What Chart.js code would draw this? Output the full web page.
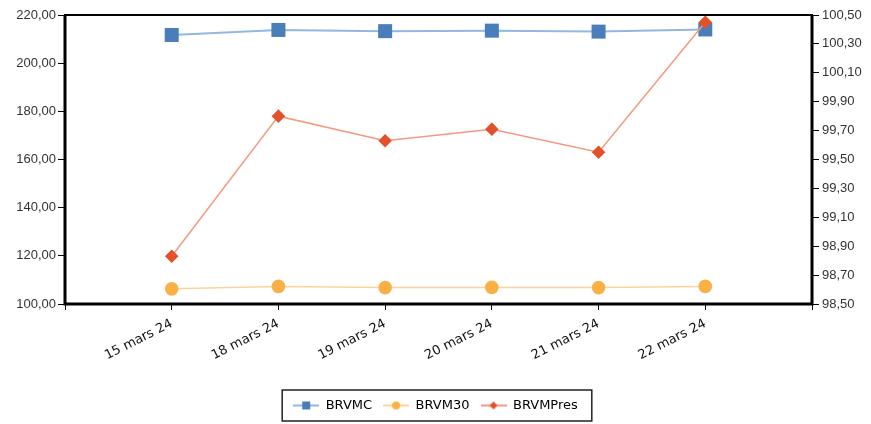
<!DOCTYPE html>
<html>
<head>
<meta charset="utf-8">
<script src="https://cdn.jsdelivr.net/npm/chart.js@4.4.1/dist/chart.umd.min.js"></script>
<style>
    html, body {
        margin: 0;
        padding: 0;
        background: #ffffff;
    }
    #wrap {
        width: 871px;
        height: 424px;
    }
</style>
</head>
<body>
<div id="wrap"><canvas id="chart" width="871" height="424"></canvas></div>
<script>
// values
const dates = ["15 mars 24", "18 mars 24", "19 mars 24", "20 mars 24", "21 mars 24", "22 mars 24"];
const brvmc = [211.7, 213.8, 213.3, 213.5, 213.1, 214.0];
const brvm30 = [106.3, 107.3, 106.8, 106.9, 106.8, 107.3];
const brvmPres = [98.83, 99.80, 99.63, 99.71, 99.55, 100.45];

const leftTicks = { min: 100, max: 220, step: 20 };
const rightTicks = { min: 98.5, max: 100.5, step: 0.2 };

const blueMark = "#4a7ebb";
const blueLine = "#93b7e3";
const orangeMark = "#fbb046";
const orangeLine = "#fcd39b";
const redMark = "#e4502a";
const redLine = "#f29a7e";

// one empty slot on each side, like the original category axis
const axisLabels = [""].concat(dates, [""]);

function padded(values) {
    return [null].concat(values, [null]);
}

function frFormat(v) {
    return Number(v).toFixed(2).replace(".", ",");
}

function legendIcon(style, markColor, lineColor) {
    const c = document.createElement("canvas");
    c.width = 26;
    c.height = 14;
    const g = c.getContext("2d");
    g.strokeStyle = lineColor;
    g.lineWidth = 2;
    g.beginPath();
    g.moveTo(0, 7);
    g.lineTo(26, 7);
    g.stroke();
    g.fillStyle = markColor;
    if (style === "rect") {
        g.fillRect(9, 3, 8, 8);
    } else if (style === "circle") {
        g.beginPath();
        g.arc(13, 7, 4, 0, Math.PI * 2);
        g.fill();
    } else {
        g.beginPath();
        g.moveTo(13, 3);
        g.lineTo(17, 7);
        g.lineTo(13, 11);
        g.lineTo(9, 7);
        g.closePath();
        g.fill();
    }
    return c;
}

const icons = [
    legendIcon("rect", blueMark, blueLine),
    legendIcon("circle", orangeMark, orangeLine),
    legendIcon("diamond", redMark, redLine),
];

// frame round the plot and box round the legend
const framePlugin = {
    id: "framePlugin",
    afterDatasetsDraw(chart) {
        const a = chart.chartArea;
        const ctx = chart.ctx;
        ctx.save();
        ctx.strokeStyle = "#000";
        ctx.lineWidth = 2;
        ctx.strokeRect(a.left, a.top, a.right - a.left, a.bottom - a.top);
        ctx.lineWidth = 3;
        ctx.beginPath();
        ctx.moveTo(a.left, a.top);
        ctx.lineTo(a.left, a.bottom);
        ctx.lineTo(a.right, a.bottom);
        ctx.lineTo(a.right, a.top);
        ctx.stroke();
        ctx.restore();
    },
    afterDraw(chart) {
        const boxes = chart.legend && chart.legend.legendHitBoxes;
        if (!boxes || boxes.length === 0) {
            return;
        }
        let l = Infinity, r = -Infinity, t = Infinity, b = -Infinity;
        boxes.forEach((h) => {
            l = Math.min(l, h.left);
            r = Math.max(r, h.left + h.width);
            t = Math.min(t, h.top);
            b = Math.max(b, h.top + h.height);
        });
        const ctx = chart.ctx;
        ctx.save();
        ctx.strokeStyle = "#222";
        ctx.lineWidth = 1.5;
        ctx.strokeRect(l - 11, t - 9, r - l + 25, b - t + 18);
        ctx.restore();
    },
};

new Chart(document.getElementById("chart").getContext("2d"), {
    type: "line",
    data: {
        labels: axisLabels,
        datasets: [
            {
                label: "BRVMC",
                data: padded(brvmc),
                yAxisID: "y",
                borderColor: blueLine,
                borderWidth: 2,
                backgroundColor: blueMark,
                pointStyle: "rect",
                pointRadius: 9.9,
                pointBorderWidth: 0,
                pointBackgroundColor: blueMark,
                order: 2,
            },
            {
                label: "BRVM30",
                data: padded(brvm30),
                yAxisID: "y",
                borderColor: orangeLine,
                borderWidth: 1.5,
                backgroundColor: orangeMark,
                pointStyle: "circle",
                pointRadius: 6.8,
                pointBorderWidth: 0,
                pointBackgroundColor: orangeMark,
                order: 1,
            },
            {
                label: "BRVMPres",
                data: padded(brvmPres),
                yAxisID: "y1",
                borderColor: redLine,
                borderWidth: 1.5,
                backgroundColor: redMark,
                pointStyle: "rectRot",
                pointRadius: 6.8,
                pointBorderWidth: 0,
                pointBackgroundColor: redMark,
                order: 0,
            },
        ],
    },
    options: {
        responsive: false,
        animation: false,
        spanGaps: false,
        layout: {
            padding: { top: 15, left: 0, right: 0, bottom: 2 },
        },
        scales: {
            x: {
                offset: false,
                grid: {
                    display: true,
                    drawOnChartArea: false,
                    drawTicks: true,
                    tickLength: 6,
                    color: "#000",
                },
                border: { display: false },
                ticks: {
                    autoSkip: false,
                    maxRotation: 27,
                    minRotation: 27,
                    padding: 6,
                    color: "#111",
                    font: { family: "DejaVu Sans", size: 13 },
                },
                afterFit(scale) {
                    scale.height = 84;
                },
            },
            y: {
                position: "left",
                min: leftTicks.min,
                max: leftTicks.max,
                grid: {
                    display: true,
                    drawOnChartArea: false,
                    tickLength: 7,
                    color: "#000",
                },
                border: { display: false },
                ticks: {
                    stepSize: leftTicks.step,
                    padding: 2,
                    color: "#333",
                    font: { family: "Liberation Sans", size: 13 },
                    callback: (v) => frFormat(v),
                },
                afterFit(scale) {
                    scale.width = 65;
                },
            },
            y1: {
                position: "right",
                min: rightTicks.min,
                max: rightTicks.max,
                grid: {
                    display: true,
                    drawOnChartArea: false,
                    tickLength: 7,
                    color: "#000",
                },
                border: { display: false },
                ticks: {
                    stepSize: rightTicks.step,
                    padding: 3,
                    color: "#333",
                    font: { family: "Liberation Sans", size: 13 },
                    callback: (v) => frFormat(v),
                },
                afterFit(scale) {
                    scale.width = 59;
                },
            },
        },
        plugins: {
            tooltip: { enabled: false },
            legend: {
                display: true,
                position: "bottom",
                labels: {
                    usePointStyle: true,
                    pointStyleWidth: 26,
                    padding: 11,
                    color: "#111",
                    font: { family: "DejaVu Sans", size: 13 },
                    generateLabels: function (chart) {
                        return chart.data.datasets.map((ds, i) => ({
                            text: ds.label,
                            pointStyle: icons[i],
                            fillStyle: ds.backgroundColor,
                            strokeStyle: ds.borderColor,
                            lineWidth: 0,
                            hidden: false,
                            datasetIndex: i,
                        }));
                    },
                },
            },
        },
    },
    plugins: [framePlugin],
});
</script>
</body>
</html>
